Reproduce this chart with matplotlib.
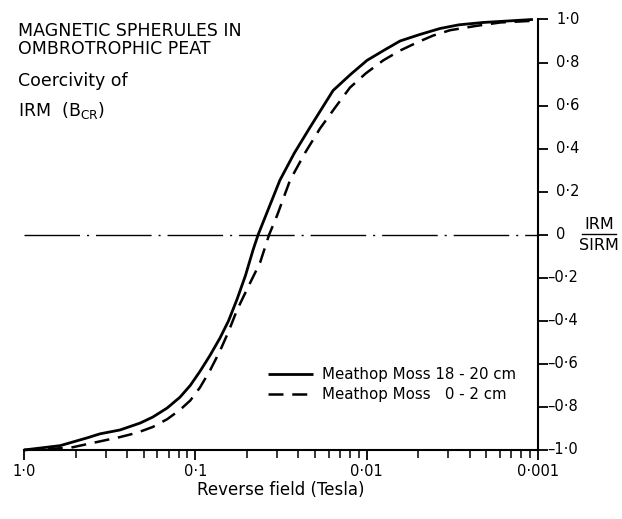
import numpy as np
import matplotlib
matplotlib.use('Agg')
import matplotlib.pyplot as plt
from matplotlib.ticker import FixedLocator, NullFormatter, NullLocator
from matplotlib.lines import Line2D

plt.rcParams['font.family'] = 'DejaVu Sans'

# reverse field (T) and IRM/SIRM
field_deep = [1.0, 0.616, 0.429, 0.36, 0.275, 0.21, 0.177, 0.146, 0.123,
              0.107, 0.094, 0.082, 0.0718, 0.064, 0.0571, 0.051, 0.046,
              0.043, 0.0321, 0.0264, 0.0214, 0.0157, 0.0124, 0.00995,
              0.0078, 0.00638, 0.0049, 0.00373, 0.0029, 0.00209, 0.00107]
irm_deep = [-1.0, -0.98, -0.944, -0.925, -0.907, -0.875, -0.847, -0.805,
            -0.755, -0.70, -0.635, -0.56, -0.48, -0.40, -0.30, -0.19, -0.07,
            0.0, 0.253, 0.38, 0.499, 0.67, 0.745, 0.81, 0.86, 0.90, 0.93,
            0.958, 0.975, 0.986, 1.0]

field_top = [1.0, 0.539, 0.385, 0.275, 0.219, 0.177, 0.146, 0.123, 0.107,
             0.094, 0.082, 0.0718, 0.064, 0.0571, 0.049, 0.0419, 0.0371,
             0.0333, 0.028, 0.0229, 0.0187, 0.0153, 0.0125, 0.0101, 0.008,
             0.0064, 0.00508, 0.0041, 0.00326, 0.0023, 0.00166, 0.001]
irm_top = [-1.0, -0.99, -0.965, -0.94, -0.92, -0.893, -0.857, -0.814, -0.77,
           -0.71, -0.63, -0.54, -0.45, -0.35, -0.24, -0.13, 0.0, 0.09,
           0.253, 0.38, 0.494, 0.59, 0.684, 0.75, 0.81, 0.855, 0.893, 0.925,
           0.95, 0.97, 0.986, 0.995]

labels = ['Meathop Moss 18 - 20 cm', 'Meathop Moss   0 - 2 cm']
xticks = [1.0, 0.1, 0.01, 0.001]
xticklabels = ['1·0', '0·1', '0·01', '0·001']
yticks = [1.0, 0.8, 0.6, 0.4, 0.2, 0.0, -0.2, -0.4, -0.6, -0.8, -1.0]
yticklabels = ['1·0', '0·8', '0·6', '0·4', '0·2', '0', '–0·2', '–0·4',
               '–0·6', '–0·8', '–1·0']

fig = plt.figure(figsize=(6.22, 5.19), dpi=100)
ax = fig.add_axes([0.0386, 0.133, 0.8263, 0.8295])

ax.plot(field_deep, irm_deep, color='black', lw=2.0, label=labels[0],
        clip_on=False, solid_capstyle='butt')
ax.plot(field_top, irm_top, color='black', lw=1.8, dashes=(6, 3.5),
        label=labels[1], clip_on=False)
ax.axhline(0, color='black', lw=1.0, dashes=(40, 5, 1.5, 5))

ax.set_xscale('log')
ax.set_xlim(1.0, 0.001)
ax.set_ylim(-1.0, 1.0)

# the printed log scale has its minor ticks mirrored (at decade / k)
minor = [d / k for d in [1.0, 0.1, 0.01] for k in range(2, 10)]
ax.xaxis.set_major_locator(FixedLocator(xticks))
ax.set_xticklabels(xticklabels)
ax.xaxis.set_minor_locator(FixedLocator(minor))
ax.xaxis.set_minor_formatter(NullFormatter())
ax.tick_params(axis='x', which='major', direction='out', length=7, width=1.3,
               labelsize=10.5, pad=3)
ax.tick_params(axis='x', which='minor', direction='out', length=5.5, width=1.1)

ax.yaxis.tick_right()
ax.set_yticks(yticks)
ax.set_yticklabels([])
ax.yaxis.set_minor_locator(NullLocator())
ax.tick_params(axis='y', direction='out', length=7.5, width=1.3)
for v, lab in zip(yticks, yticklabels):
    # negative labels: the minus sign runs on from the tick
    off = 6.8 if lab.startswith('–') else 13
    ax.annotate(lab, xy=(1.0, v), xycoords=('axes fraction', 'data'),
                xytext=(off, 0), textcoords='offset points', ha='left',
                va='center', fontsize=10.5, annotation_clip=False)

for s in ['top', 'left']:
    ax.spines[s].set_visible(False)
for s in ['bottom', 'right']:
    ax.spines[s].set_linewidth(1.5)

fig.text(0.0386 + 0.8263 / 2, 0.056, 'Reverse field (Tesla)', fontsize=12,
         ha='center', va='center')

leg = ax.legend(loc='upper left', bbox_to_anchor=(0.475, 0.193), frameon=False,
                fontsize=10.8, handlelength=3.0, handletextpad=0.6,
                borderpad=0, labelspacing=0.35, borderaxespad=0)

# title block
fig.text(0.029, 0.940, 'MAGNETIC SPHERULES IN', fontsize=12.5, va='center')
fig.text(0.029, 0.905, 'OMBROTROPHIC PEAT', fontsize=12.5, va='center')
fig.text(0.029, 0.843, 'Coercivity of', fontsize=12.5, va='center')
fig.text(0.029, 0.787, r'IRM  (B$_{\mathregular{CR}}$)', fontsize=12.5,
         va='center')

# y-axis quantity as a fraction
fig.text(0.963, 0.553, 'IRM', fontsize=11.5, ha='center', va='bottom')
fig.text(0.963, 0.541, 'SIRM', fontsize=11.5, ha='center', va='top')
fig.add_artist(Line2D([0.935, 0.99], [0.549, 0.549], color='black', lw=1.0,
                      transform=fig.transFigure))

fig.savefig('out.png', dpi=100)
